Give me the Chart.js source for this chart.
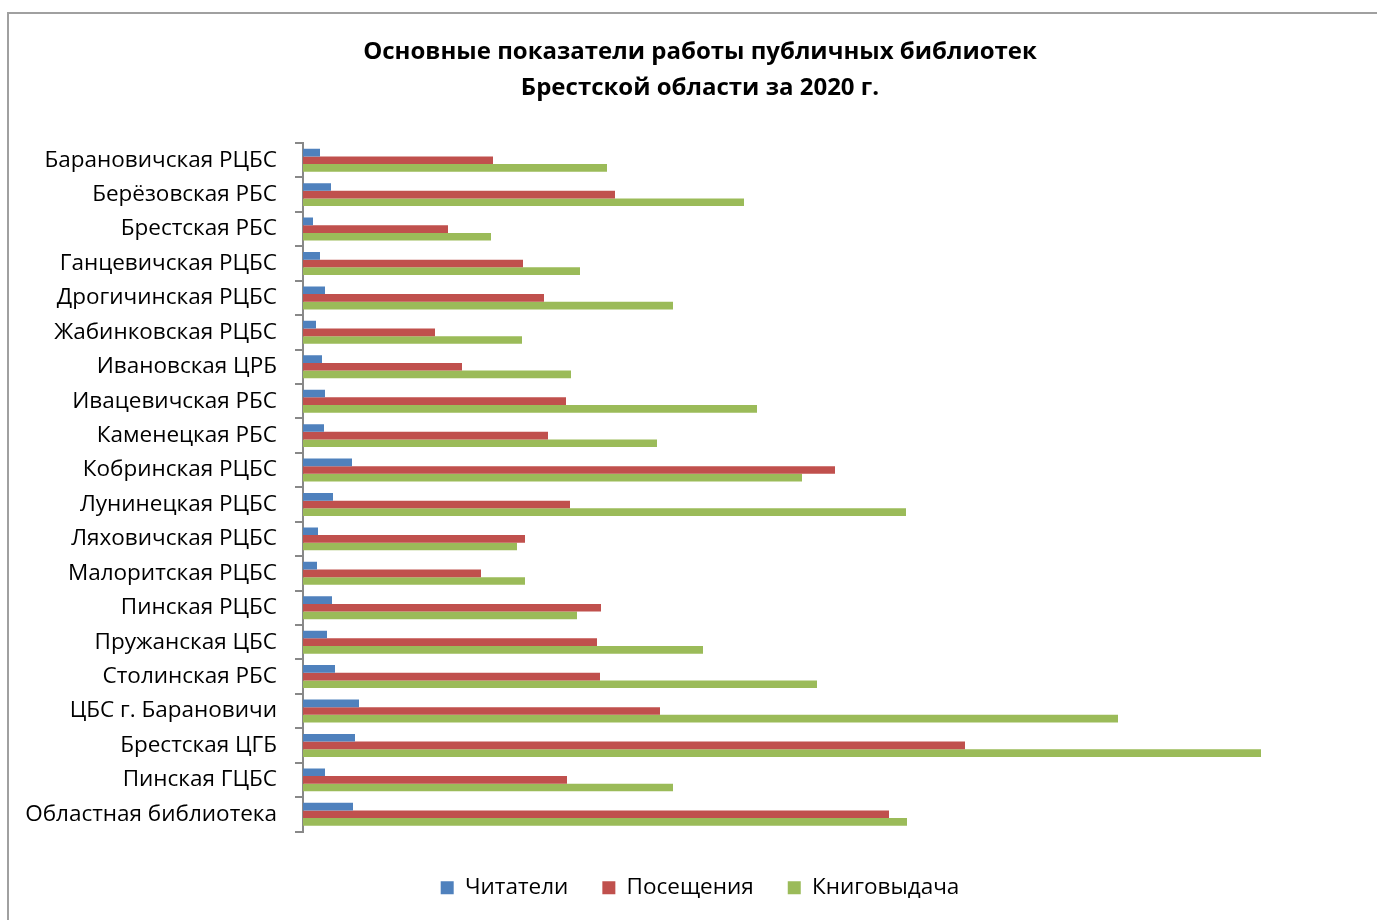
<!DOCTYPE html>
<html>
<head>
<meta charset="utf-8">
<script src="https://cdn.jsdelivr.net/npm/chart.js@4/dist/chart.umd.min.js"></script>
<style>
  html, body { margin: 0; padding: 0; background: #fff; }
  #wrap { position: relative; width: 1377px; height: 920px; overflow: hidden; }
  #frame { position: absolute; left: 7px; top: 12px; width: 1500px; height: 1000px; border: 2px solid #a0a0a0; box-sizing: border-box; }
  #c { position: absolute; left: 0; top: 0; }
</style>
</head>
<body>
<div id="wrap">
  <div id="frame"></div>
  <canvas id="c" width="1377" height="920"></canvas>
</div>
<script>
const categories = [
  'Барановичская РЦБС', 'Берёзовская РБС', 'Брестская РБС', 'Ганцевичская РЦБС',
  'Дрогичинская РЦБС', 'Жабинковская РЦБС', 'Ивановская ЦРБ', 'Ивацевичская РБС',
  'Каменецкая РБС', 'Кобринская РЦБС', 'Лунинецкая РЦБС', 'Ляховичская РЦБС',
  'Малоритская РЦБС', 'Пинская РЦБС', 'Пружанская ЦБС', 'Столинская РБС',
  'ЦБС г. Барановичи', 'Брестская ЦГБ', 'Пинская ГЦБС', 'Областная библиотека'
];
const readers = [17, 28, 10, 17, 22, 13, 19, 22, 21, 49, 30, 15, 14, 29, 24, 32, 56, 52, 22, 50];
const visits  = [190, 312, 145, 220, 241, 132, 159, 263, 245, 532, 267, 222, 178, 298, 294, 297, 357, 662, 264, 586];
const lending = [304, 441, 188, 277, 370, 219, 268, 454, 354, 499, 603, 214, 222, 274, 400, 514, 815, 958, 370, 604];
const seriesNames = ['Читатели', 'Посещения', 'Книговыдача'];
const titleLines = ['Основные показатели работы публичных библиотек', 'Брестской области за 2020 г.'];

const FONT = '"Open Sans", Calibri, sans-serif';
const PAD_LEFT = 23;

new Chart(document.getElementById('c'), {
  type: 'bar',
  data: {
    labels: categories,
    datasets: [
      { label: seriesNames[0], data: readers, backgroundColor: '#4F81BD' },
      { label: seriesNames[1], data: visits,  backgroundColor: '#C0504D' },
      { label: seriesNames[2], data: lending, backgroundColor: '#9BBB59' }
    ]
  },
  options: {
    indexAxis: 'y',
    responsive: false,
    animation: false,
    devicePixelRatio: 1,
    datasets: { bar: { categoryPercentage: 0.667, barPercentage: 1.0 } },
    layout: { padding: { left: PAD_LEFT, right: 0, top: 0, bottom: 11 } },
    plugins: {
      title: {
        display: true,
        text: titleLines,
        color: '#000',
        font: { family: FONT, size: 24, weight: 'bold', lineHeight: 1.5 },
        padding: { top: 34, bottom: 37 }
      },
      legend: {
        position: 'bottom',
        title: {
          display: true,
          text: ' ',
          font: { size: 1, lineHeight: 1 },
          padding: { top: 5, bottom: 5 }
        },
        labels: {
          color: '#000',
          font: { family: FONT, size: 22.5 },
          boxWidth: 13,
          boxHeight: 13,
          padding: 34
        }
      },
      tooltip: { enabled: false }
    },
    scales: {
      x: {
        display: false,
        min: 0,
        max: 1074
      },
      y: {
        afterFit: (s) => { s.width = 303 - PAD_LEFT; },
        grid: {
          display: true,
          drawOnChartArea: false,
          drawTicks: true,
          tickLength: 8,
          color: '#888',
          lineWidth: 2
        },
        border: { display: true, color: '#888', width: 2 },
        ticks: {
          color: '#000',
          font: { family: FONT, size: 22.5 },
          padding: 18
        }
      }
    }
  }
});
</script>
</body>
</html>
